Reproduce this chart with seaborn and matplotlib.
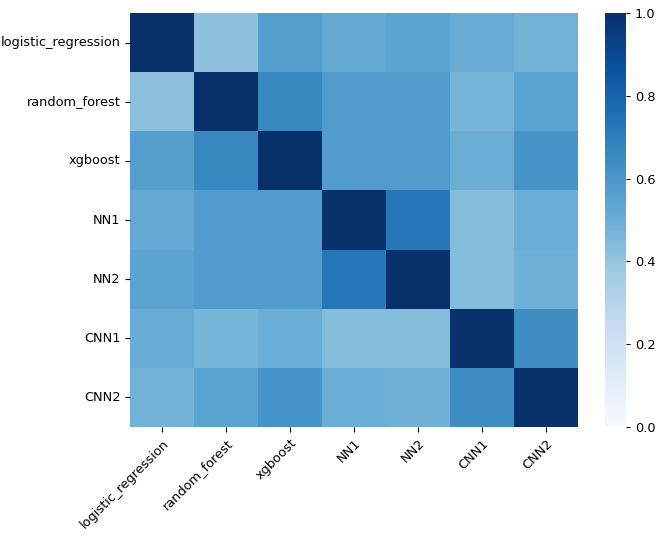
import numpy as np
import pandas as pd
import matplotlib
matplotlib.use('Agg')
import matplotlib.pyplot as plt
import seaborn as sns

models = ['logistic_regression', 'random_forest', 'xgboost', 'NN1', 'NN2', 'CNN1', 'CNN2']

# correlation between model predictions
row_lr = [1.00, 0.42, 0.57, 0.52, 0.55, 0.51, 0.48]
row_rf = [0.42, 1.00, 0.66, 0.58, 0.58, 0.47, 0.55]
row_xgb = [0.57, 0.66, 1.00, 0.58, 0.58, 0.50, 0.61]
row_nn1 = [0.52, 0.58, 0.58, 1.00, 0.73, 0.44, 0.50]
row_nn2 = [0.55, 0.58, 0.58, 0.73, 1.00, 0.44, 0.49]
row_cnn1 = [0.51, 0.47, 0.50, 0.44, 0.44, 1.00, 0.64]
row_cnn2 = [0.48, 0.55, 0.61, 0.50, 0.49, 0.64, 1.00]


def main():
    plt.rcParams['font.size'] = 9.3
    corr = pd.DataFrame([row_lr, row_rf, row_xgb, row_nn1, row_nn2, row_cnn1, row_cnn2],
                        index=models, columns=models)

    W, H = 664, 536
    fig = plt.figure(figsize=(6.64, 5.36), dpi=100)
    ax = fig.add_axes([130 / W, (H - 427) / H, 448 / W, 414 / H])
    cax = fig.add_axes([605 / W, (H - 427) / H, 21 / W, 414 / H])
    sns.heatmap(corr, cmap='Blues', vmin=0, vmax=1, ax=ax, cbar_ax=cax)
    plt.setp(ax.get_xticklabels(), rotation=45, ha='right', rotation_mode='anchor')
    plt.setp(ax.get_yticklabels(), rotation=0)
    cax.tick_params(length=3)
    fig.savefig('out.png', dpi=100)


if __name__ == "__main__":
    main()
